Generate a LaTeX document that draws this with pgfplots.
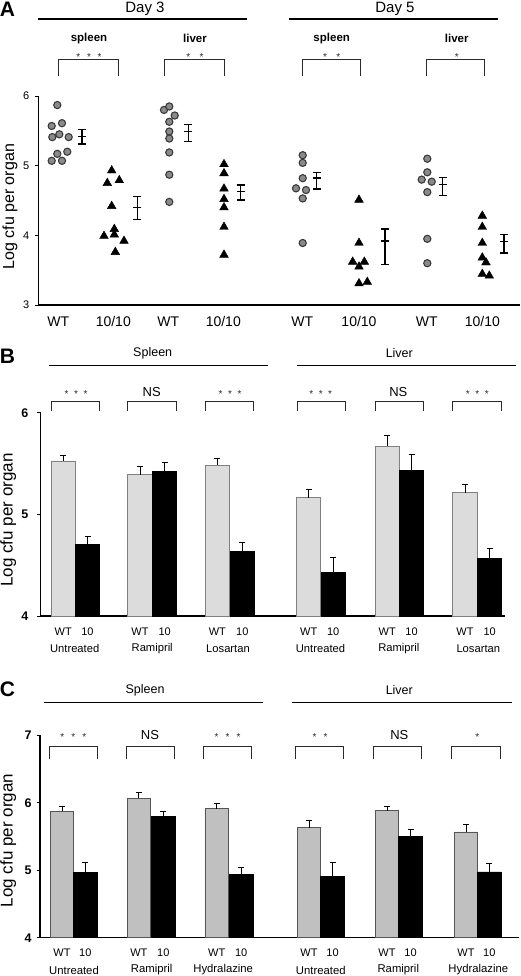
\documentclass[border=0pt]{standalone}
\usepackage{pgfplots}
\pgfplotsset{compat=1.18}
\usepackage{fontspec}
\setmainfont{Liberation Sans}
\definecolor{circfill}{HTML}{8A8A8A}
\definecolor{circedge}{HTML}{3A3A3A}
\definecolor{wtB}{HTML}{DCDCDC}
\definecolor{wtBedge}{HTML}{808080}
\definecolor{wtC}{HTML}{C0C0C0}
\definecolor{wtCedge}{HTML}{555555}
\definecolor{annot}{HTML}{2A2A2A}
\newcommand\fs[1]{\fontsize{#1}{#1}\selectfont}
\newcommand\brk[4]{\draw[annot, line width=1pt] (#1pt,-#4pt) -- (#1pt,-#3pt) -- (#2pt,-#3pt) -- (#2pt,-#4pt);}
\newcommand\stars[3]{\node[font=\fs{10}, anchor=base, inner sep=0pt, annot] at (#1pt,-#2pt) {#3};}
\newcommand\txt[4]{\node[font=\fs{#3}, anchor=center, inner sep=0pt] at (#1pt,-#2pt) {#4};}
\pgfplotsset{
  mymean/.style={only marks, black, mark=-, mark size=4pt, mark options={line width=1.5pt},
    error bars/.cd, y dir=both, y explicit, error mark=|, error bar style={line width=1.5pt},
    error mark options={mark size=4pt, line width=1.5pt}},
  mycirc/.style={only marks, mark=*, mark size=3.6pt, mark options={fill=circfill, draw=circedge, line width=1.1pt}},
  mytri/.style={only marks, mark=triangle*, mark size=5pt, black, mark options={fill=black}},
  mybarerr/.style={error bars/.cd, y dir=plus, y explicit, error mark=|,
    error bar style={black, line width=0.8pt},
    error mark options={black, mark size=3pt, line width=0.8pt}},
}
\begin{document}
\begin{tikzpicture}
\path[use as bounding box] (0pt,0pt) rectangle (520pt,-976pt);

% ================= Panel A =================
\begin{axis}[
  at={(38.3pt,-305pt)}, anchor=south west, scale only axis,
  width=481.7pt, height=209pt,
  xmin=38.3, xmax=520, ymin=3, ymax=6,
  axis x line=bottom, axis y line=left,
  axis line style={-, line width=1.4pt},
  ytick={3,4,5,6}, yticklabels={3,4,5,6},
  tick align=outside, major tick length=3pt,
  y tick style={line width=0.8pt, black},
  xtick={58.3,113.3,168.3,223.3,302.3,359,426.7,482.3},
  xticklabels={WT,10/10,WT,10/10,WT,10/10,WT,10/10},
  x tick style={draw=none},
  xticklabel style={font=\fs{14}, anchor=center, yshift=-13.3pt},
  yticklabel style={font=\fs{11}, anchor=center, xshift=-9pt},
  ylabel={Log cfu per organ},
  ylabel style={font=\fs{16}, at={(axis description cs:-0.0588,0.47)}, anchor=center},
  clip=false,
]
% Day 3 spleen WT
\addplot[mycirc] coordinates {(57.3,5.87) (51.7,5.57) (62,5.61) (52.3,5.41) (59.3,5.45) (68.7,5.41) (57.3,5.17) (67.3,5.20) (51.7,5.07) (62,5.07)};
\addplot[mymean] coordinates {(82,5.42) += (0,0.10) -= (0,0.11)};
% Day 3 spleen 10/10
\addplot[mytri] coordinates {(111.7,4.93) (107.3,4.75) (119.3,4.79) (111.7,4.42) (114.3,4.09) (114.3,4.01) (104,3.99) (124,3.92) (115.3,3.76)};
\addplot[mymean] coordinates {(137.3,4.40) += (0,0.16) -= (0,0.17)};
% Day 3 liver WT
\addplot[mycirc] coordinates {(164,5.80) (169.3,5.85) (174.7,5.72) (169.3,5.63) (169.3,5.49) (169.3,5.39) (169.3,5.19) (169.3,4.87) (169.3,4.48)};
\addplot[mymean] coordinates {(188.3,5.49) += (0,0.10) -= (0,0.14)};
% Day 3 liver 10/10
\addplot[mytri] coordinates {(224,5.02) (224,4.89) (224,4.67) (224,4.52) (224,4.40) (224,4.12) (224,3.72)};
\addplot[mymean] coordinates {(240.7,4.63) += (0,0.09) -= (0,0.12)};
% Day 5 spleen WT
\addplot[mycirc] coordinates {(302.7,5.15) (302.7,5.04) (302.7,4.82) (296,4.675) (306,4.65) (302.7,4.53) (302.7,3.89)};
\addplot[mymean] coordinates {(316.7,4.82) += (0,0.085) -= (0,0.155)};
% Day 5 spleen 10/10
\addplot[mytri] coordinates {(359,4.51) (359,3.89) (352.7,3.62) (364.3,3.62) (359,3.55) (359,3.31) (367.3,3.33)};
\addplot[mymean] coordinates {(385,3.92) += (0,0.17) -= (0,0.34)};
% Day 5 liver WT
\addplot[mycirc] coordinates {(427.3,5.10) (427.3,4.905) (421.7,4.80) (431.7,4.77) (427.3,4.62) (427.3,3.95) (427.3,3.60)};
\addplot[mymean] coordinates {(442.7,4.73) += (0,0.10) -= (0,0.155)};
% Day 5 liver 10/10
\addplot[mytri] coordinates {(482.3,4.28) (482.3,4.12) (482.3,3.89) (482.3,3.68) (486,3.61) (482.3,3.445) (489.3,3.42)};
\addplot[mymean] coordinates {(504,3.91) += (0,0.10) -= (0,0.16)};
\end{axis}

% ================= Panel B =================
\begin{axis}[
  at={(40.7pt,-616pt)}, anchor=south west, scale only axis,
  width=464.3pt, height=203.3pt,
  xmin=40.7, xmax=505, ymin=4, ymax=6,
  axis x line=bottom, axis y line=left,
  axis line style={-, line width=1.2pt},
  ytick={4,5,6}, yticklabels={\textbf{4},\textbf{5},\textbf{6}},
  tick align=outside, major tick length=3.5pt,
  y tick style={line width=0.8pt, black},
  xtick={63.3,87.5,140,164.7,217.3,242.3,308.7,333.2,387.2,411.5,465,489.7},
  xticklabels={WT,10,WT,10,WT,10,WT,10,WT,10,WT,10},
  x tick style={draw=none},
  xticklabel style={font=\fs{11}, anchor=center, yshift=-12.3pt},
  yticklabel style={font=\fs{12.5}, anchor=center, xshift=-12.4pt},
  ylabel={Log cfu per organ},
  ylabel style={font=\fs{17}, at={(axis description cs:-0.0698,0.472)}, anchor=center},
  bar width=24.3,
]
\addplot[ybar, bar shift=0pt, fill=wtB, draw=wtBedge, line width=0.8pt, mybarerr]
  coordinates {(63.3,5.525) +- (0,0.052) (140,5.39) +- (0,0.08) (217.3,5.485) +- (0,0.065)
               (308.7,5.164) +- (0,0.082) (387.2,5.672) +- (0,0.108) (465,5.213) +- (0,0.082)};
\addplot[ybar, bar shift=0pt, fill=black, draw=black, line width=0.8pt, mybarerr]
  coordinates {(87.5,4.70) +- (0,0.08) (164.7,5.42) +- (0,0.09) (242.3,4.636) +- (0,0.092)
               (333.2,4.426) +- (0,0.148) (411.5,5.436) +- (0,0.154) (489.7,4.564) +- (0,0.098)};
\end{axis}

% ================= Panel C =================
\begin{axis}[
  at={(40pt,-937.7pt)}, anchor=south west, scale only axis,
  width=479pt, height=202.4pt,
  xmin=40, xmax=519, ymin=4, ymax=7,
  axis x line=bottom, axis y line=left,
  axis line style={-, line width=1.4pt},
  ytick={4,5,6,7}, yticklabels={\textbf{4},\textbf{5},\textbf{6},\textbf{7}},
  tick align=outside, major tick length=3.5pt,
  y tick style={line width=0.8pt, black},
  xtick={62,85.3,138.8,163.3,216.7,241.2,309,332.5,387,410.5,466,489.3},
  xticklabels={WT,10,WT,10,WT,10,WT,10,WT,10,WT,10},
  x tick style={draw=none},
  xticklabel style={font=\fs{11}, anchor=center, yshift=-11.3pt},
  yticklabel style={font=\fs{12.5}, anchor=center, xshift=-8.3pt},
  ylabel={Log cfu per organ},
  ylabel style={font=\fs{17}, at={(axis description cs:-0.0662,0.48)}, anchor=center},
  bar width=23.5,
]
\addplot[ybar, bar shift=0pt, fill=wtC, draw=wtCedge, line width=0.8pt, mybarerr]
  coordinates {(62,5.873) +- (0,0.075) (138.8,6.066) +- (0,0.089) (216.7,5.913) +- (0,0.084)
               (309,5.631) +- (0,0.114) (387,5.883) +- (0,0.065) (466,5.567) +- (0,0.114)};
\addplot[ybar, bar shift=0pt, fill=black, draw=black, line width=0.8pt, mybarerr]
  coordinates {(85.3,4.964) +- (0,0.153) (163.3,5.794) +- (0,0.079) (241.2,4.944) +- (0,0.099)
               (332.5,4.914) +- (0,0.203) (410.5,5.498) +- (0,0.109) (489.3,4.974) +- (0,0.123)};
\end{axis}

% ================= Annotations =================
\node[font=\fs{21}\bfseries, anchor=center, inner sep=0pt] at (7.5pt,-9.3pt) {A};
\node[font=\fs{21}\bfseries, anchor=center, inner sep=0pt] at (7.5pt,-355.8pt) {B};
\node[font=\fs{21}\bfseries, anchor=center, inner sep=0pt] at (7.5pt,-689pt) {C};

% A header
\txt{145}{9.3}{15}{Day 3}
\txt{395}{9.3}{15}{Day 5}
\draw[line width=1.3pt] (37.7pt,-19pt) -- (246.7pt,-19pt);
\draw[line width=1.3pt] (289pt,-19pt) -- (497.7pt,-19pt);
\node[font=\fs{11.5}\bfseries, anchor=center, inner sep=0pt] at (89pt,-38.3pt) {spleen};
\node[font=\fs{11.5}\bfseries, anchor=center, inner sep=0pt] at (195pt,-38.3pt) {liver};
\node[font=\fs{11.5}\bfseries, anchor=center, inner sep=0pt] at (331.7pt,-38.3pt) {spleen};
\node[font=\fs{11.5}\bfseries, anchor=center, inner sep=0pt] at (456.7pt,-38.3pt) {liver};
\stars{89}{60.5}{*\hspace{6.8pt}*\hspace{6.8pt}*}
\stars{195}{60.5}{*\hspace{9.4pt}*}
\stars{331.7}{60.5}{*\hspace{9.4pt}*}
\stars{456.7}{60.5}{*}
\brk{58.3}{118.7}{60}{76}
\brk{164.3}{224}{60}{76}
\brk{302.3}{360}{60}{76}
\brk{426.7}{484.3}{60}{76}

% B header
\txt{152.7}{353.3}{12.5}{Spleen}
\txt{399.3}{353.3}{12.5}{Liver}
\draw[line width=1.2pt] (49.3pt,-365.3pt) -- (268.3pt,-365.3pt);
\draw[line width=1.2pt] (297.3pt,-365.3pt) -- (516pt,-365.3pt);
\stars{76}{397.5}{*\hspace{5.6pt}*\hspace{5.6pt}*}
\txt{151.7}{391.7}{13}{NS}
\stars{230}{397.5}{*\hspace{5.6pt}*\hspace{5.6pt}*}
\stars{320.7}{397.5}{*\hspace{5.6pt}*\hspace{5.6pt}*}
\txt{398.3}{391.7}{13}{NS}
\stars{477.3}{397.5}{*\hspace{5.6pt}*\hspace{5.6pt}*}
\brk{51.7}{99}{401}{410.7}
\brk{127.7}{176}{401}{410.7}
\brk{205}{253.3}{401}{410.7}
\brk{297.3}{345}{401}{410.7}
\brk{375}{423.3}{401}{410.7}
\brk{452.7}{501}{401}{410.7}
\txt{74.7}{648.3}{11.2}{Untreated}
\txt{152.2}{648.3}{11.2}{Ramipril}
\txt{228}{648.3}{11.2}{Losartan}
\txt{320.5}{648.3}{11.2}{Untreated}
\txt{398.8}{648.3}{11.2}{Ramipril}
\txt{478.3}{648.3}{11.2}{Losartan}

% C header
\txt{145}{690}{12.5}{Spleen}
\txt{399.3}{690}{12.5}{Liver}
\draw[line width=1.2pt] (44.3pt,-702.7pt) -- (263.3pt,-702.7pt);
\draw[line width=1.2pt] (292.3pt,-702.7pt) -- (511.7pt,-702.7pt);
\stars{73.3}{740.8}{*\hspace{7.1pt}*\hspace{7.1pt}*}
\txt{150}{735}{13}{NS}
\stars{227.5}{740.8}{*\hspace{7.1pt}*\hspace{7.1pt}*}
\stars{320}{740.8}{*\hspace{7.1pt}*}
\txt{399.3}{735}{13}{NS}
\stars{477.3}{740.8}{*}
\brk{49.3}{97.3}{746}{759.3}
\brk{126}{174}{746}{759.3}
\brk{203.3}{251.7}{746}{759.3}
\brk{295}{343.3}{746}{759.3}
\brk{373.3}{421.7}{746}{759.3}
\brk{451.7}{500}{746}{759.3}
\txt{74}{970}{11.3}{Untreated}
\txt{151.7}{970}{11.3}{Ramipril}
\txt{223.2}{970}{11.3}{Hydralazine}
\txt{320.8}{970}{11.3}{Untreated}
\txt{398.3}{970}{11.3}{Ramipril}
\txt{478.3}{970}{11.3}{Hydralazine}
\end{tikzpicture}
\end{document}
